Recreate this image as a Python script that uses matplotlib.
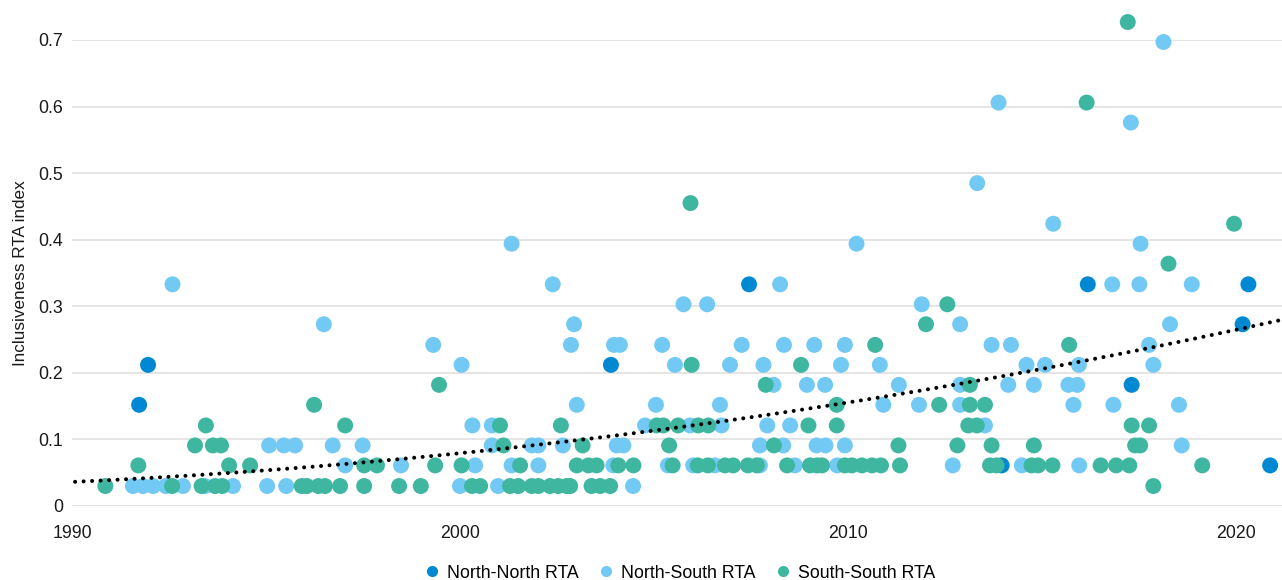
import numpy as np
import matplotlib
matplotlib.use("Agg")
import matplotlib.pyplot as plt
from matplotlib.lines import Line2D

plt.rcParams["font.family"] = ["Liberation Sans", "DejaVu Sans"]

# ---- data: year of agreement and inclusiveness index -----------------------
nn_year = [1991.73, 1991.96, 2003.89, 2007.45, 2013.96, 2016.18, 2017.31,
           2020.17, 2020.32, 2020.88]
nn_value = [0.152, 0.212, 0.212, 0.333, 0.061, 0.333, 0.182,
            0.273, 0.333, 0.061]

ns_year = [
    # 0.030
    1991.57, 1991.83, 1992.09, 1992.42, 1992.86, 1993.43, 1994.15, 1995.03,
    1995.52, 2000.00, 2000.98, 2004.46,
    # 0.061
    1997.04, 1998.48, 2000.39, 2001.33, 2002.02, 2003.95, 2005.36, 2006.01,
    2006.57, 2007.73, 2008.63, 2009.72, 2012.70, 2014.48, 2015.96,
    # 0.091
    1995.08, 1995.46, 1995.75, 1996.72, 1997.49, 2000.82, 2001.85, 2002.02,
    2002.65, 2004.04, 2004.21, 2007.73, 2008.33, 2009.19, 2009.42, 2009.92,
    2018.60,
    # 0.121
    2000.32, 2000.82, 2004.77, 2005.93, 2006.74, 2007.92, 2008.51, 2013.53,
    # 0.152
    2003.01, 2005.05, 2006.70, 2010.91, 2011.83, 2012.89, 2015.81, 2016.84,
    2018.53,
    # 0.182
    2008.08, 2008.94, 2009.41, 2011.31, 2012.89, 2014.13, 2014.79, 2015.68,
    2015.91,
    # 0.212
    2000.04, 2005.54, 2006.96, 2007.82, 2009.82, 2010.82, 2014.60, 2015.08,
    2015.95, 2017.87,
    # 0.242
    1999.31, 2002.86, 2003.97, 2004.12, 2005.21, 2007.26, 2008.35, 2009.13,
    2009.92, 2013.70, 2014.20, 2017.76,
    # 0.273
    1996.49, 2002.94, 2012.89, 2018.30,
    # 0.303
    2005.76, 2006.37, 2011.90,
    # 0.333
    1992.59, 2002.39, 2008.25, 2016.81, 2017.51, 2018.86,
    # higher
    2001.33, 2010.22, 2017.54, 2015.29, 2013.33, 2017.29, 2013.88, 2018.13,
]
ns_value = (
    [0.030] * 12 + [0.061] * 15 + [0.091] * 17 + [0.121] * 8 + [0.152] * 9
    + [0.182] * 9 + [0.212] * 10 + [0.242] * 12 + [0.273] * 4 + [0.303] * 3
    + [0.333] * 6
    + [0.394, 0.394, 0.394, 0.424, 0.485, 0.576, 0.606, 0.697]
)

ss_year = [
    # 0.030
    1990.86, 1992.58, 1993.34, 1993.69, 1993.87, 1995.92, 1996.05, 1996.35,
    1996.52, 1996.91, 1997.53, 1998.43, 1998.99, 2000.31, 2000.52, 2001.29,
    2001.50, 2001.85, 2002.02, 2002.32, 2002.53, 2002.75, 2002.84, 2003.39,
    2003.61, 2003.87, 2017.87,
    # 0.061
    1991.71, 1994.05, 1994.59, 1997.53, 1997.86, 1999.36, 2000.04, 2001.55,
    2003.01, 2003.31, 2003.52, 2004.08, 2004.47, 2005.48, 2006.13, 2006.39,
    2006.83, 2007.04, 2007.42, 2007.65, 2008.43, 2009.02, 2009.20, 2009.33,
    2009.92, 2010.10, 2010.36, 2010.62, 2010.85, 2011.34, 2013.66, 2013.83,
    2014.73, 2014.90, 2015.27, 2016.51, 2016.91, 2017.25, 2019.13,
    # 0.091
    1993.17, 1993.63, 1993.84, 2001.12, 2003.16, 2005.39, 2008.09, 2011.30,
    2012.82, 2013.70, 2014.79, 2017.40, 2017.53,
    # 0.121
    1993.45, 1997.04, 2001.03, 2002.60, 2005.07, 2005.24, 2005.62, 2006.14,
    2006.40, 2008.98, 2009.71, 2013.10, 2013.32, 2017.31, 2017.76,
    # 0.152
    1996.24, 2009.71, 2012.35, 2013.14, 2013.53,
    # 0.182
    1999.46, 2007.88, 2013.14,
    # 0.212
    2005.97, 2008.79,
    # 0.242
    2010.70, 2015.70,
    # higher
    2012.01, 2012.56, 2018.26, 2019.95, 2005.94, 2016.15, 2017.21,
]
ss_value = (
    [0.030] * 27 + [0.061] * 39 + [0.091] * 13 + [0.121] * 15 + [0.152] * 5
    + [0.182] * 3 + [0.212] * 2 + [0.242] * 2
    + [0.273, 0.303, 0.364, 0.424, 0.455, 0.606, 0.727]
)

# trend line readings (year, index)
trend_year = [1990.08, 1994.97, 2000.39, 2005.58, 2010.91, 2016.24, 2021.09]
trend_value = [0.036, 0.054, 0.0815, 0.118, 0.164, 0.219, 0.279]

series_labels = ["North-North RTA", "North-South RTA", "South-South RTA"]
series_colors = ["#0089D2", "#72C9F4", "#3EB6A0"]

y_ticks = [0, 0.1, 0.2, 0.3, 0.4, 0.5, 0.6, 0.7]
y_tick_labels = ["0", "0.1", "0.2", "0.3", "0.4", "0.5", "0.6", "0.7"]
x_ticks = [1990, 2000, 2010, 2020]

# ---- figure ---------------------------------------------------------------
W, H = 1282, 580
fig = plt.figure(figsize=(W / 100, H / 100), dpi=100)
ax = fig.add_axes([72 / W, 1 - 506 / H, 1210 / W, 466 / H])

x_max = 1990 + 1210 / 38.8
ax.set_xlim(1990, x_max)
ax.set_ylim(0, 0.7)

for s in ax.spines.values():
    s.set_visible(False)

ax.set_yticks(y_ticks)
ax.set_yticklabels(y_tick_labels)
ax.set_xticks(x_ticks)
ax.set_xticklabels([str(t) for t in x_ticks])
ax.tick_params(axis="both", length=0, labelsize=12.8, colors="#1a1a1a")
ax.tick_params(axis="y", pad=6.5)
ax.tick_params(axis="x", pad=13.5)
ax.yaxis.grid(True, color="#dedede", linewidth=1.1)
ax.set_axisbelow(True)

ax.set_ylabel("Inclusiveness RTA index", fontsize=12.3, color="#1a1a1a",
              labelpad=7)

msize = 132
for xs, ys, c, z in [(nn_year, nn_value, series_colors[0], 3),
                     (ns_year, ns_value, series_colors[1], 4),
                     (ss_year, ss_value, series_colors[2], 5)]:
    ax.scatter(xs, ys, s=msize, color=c, edgecolors="none", zorder=z,
               clip_on=False)

# quadratic trend through the trend readings
coef = np.polyfit(trend_year, trend_value, 2)
tx = np.linspace(1990.08, x_max - 0.05, 300)
ax.plot(tx, np.polyval(coef, tx), color="black", linewidth=2.9,
        linestyle=(0, (0.01, 2.1)), dash_capstyle="round", zorder=6,
        clip_on=False)

handles = [Line2D([], [], marker="o", linestyle="none", markersize=8,
                  markerfacecolor=c, markeredgecolor="none")
           for c in series_colors]
ax.legend(handles, series_labels, loc="center", bbox_to_anchor=(0.5025, -0.1438),
          ncol=3, frameon=False, fontsize=12.8, handlelength=0.8,
          handletextpad=0.4, columnspacing=1.18, borderpad=0, borderaxespad=0)

fig.savefig("out.png", dpi=100)
